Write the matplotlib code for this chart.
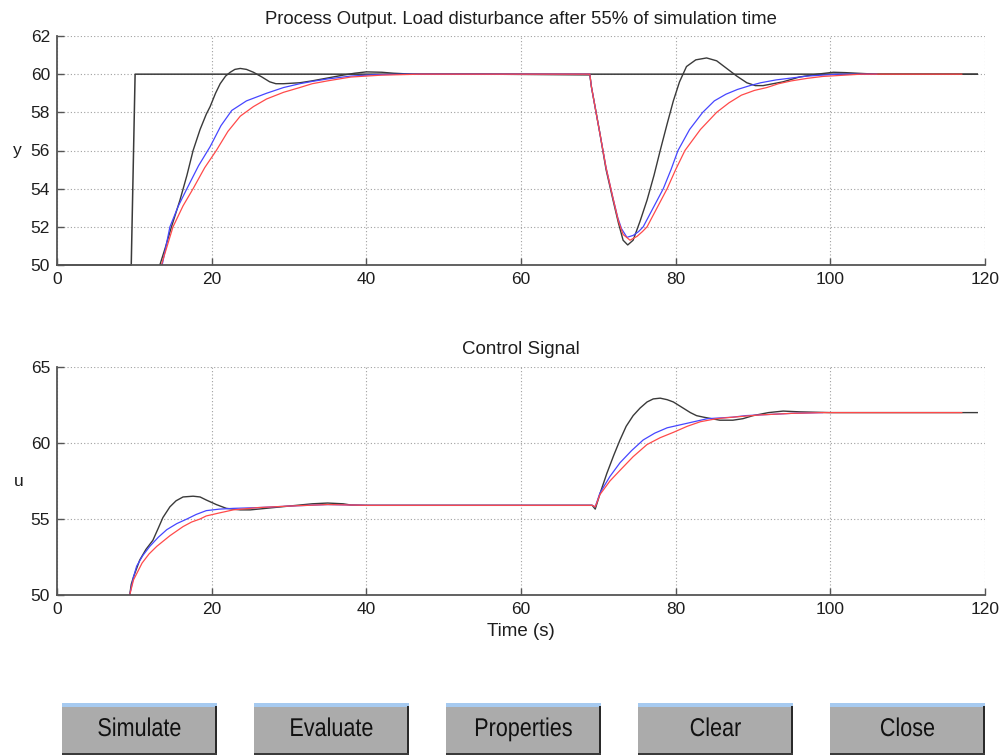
import matplotlib
matplotlib.use("Agg")
import matplotlib.pyplot as plt
from matplotlib.patches import Rectangle
from matplotlib.patheffects import AbstractPathEffect
from matplotlib.transforms import Affine2D

# ---------------- data ----------------
x_ticks = [0, 20, 40, 60, 80, 100, 120]
y_ticks_top = [50, 52, 54, 56, 58, 60, 62]
y_ticks_bot = [50, 55, 60, 65]

# process output: setpoint
sp_t = [0, 9.6, 10.1, 119]
sp_y = [50, 50, 60, 60]

# process output: black response
yk_t = [13.3, 14.0, 14.8, 15.9, 16.8, 17.6, 18.5, 19.3, 19.8, 20.5, 21.1, 21.8, 22.4, 23.0, 23.7, 24.5, 25.4,
        26.5, 27.5, 28.3, 29.3, 31.4, 33, 35, 37, 38.5, 40, 42, 43.5, 46, 55,
        68.9, 69.1, 70.2, 71.0, 71.9, 72.6, 73.2, 73.8, 74.5, 75.4, 76.3, 77.2, 78.0, 78.9, 79.7, 80.5,
        81.4, 82.6, 84.0, 85.3, 86.6, 87.9, 89.2, 90.3, 91.3, 92.6, 93.9, 96, 98.3, 100.4, 102, 103.4, 106, 119]
yk_y = [50, 50.9, 52.0, 53.4, 54.7, 56.0, 57.1, 57.9, 58.3, 59.0, 59.5, 59.9, 60.1, 60.25, 60.3, 60.25, 60.1,
        59.85, 59.6, 59.5, 59.5, 59.55, 59.65, 59.8, 59.95, 60.05, 60.12, 60.1, 60.05, 60.0, 60.0,
        59.96, 59.35, 56.9, 55.0, 53.4, 52.2, 51.3, 51.05, 51.3, 52.3, 53.4, 54.7, 56.0, 57.4, 58.6, 59.6,
        60.4, 60.75, 60.85, 60.7, 60.3, 59.9, 59.55, 59.4, 59.4, 59.5, 59.6, 59.85, 60.0, 60.1, 60.08, 60.05, 60.0, 60.0]

# process output: blue response
yb_t = [13.6, 14.6, 15.7, 16.8, 18.3, 19.8, 21.2, 22.6, 24.5, 27.1, 29.3, 31.4, 33, 35, 38, 41, 45,
        68.9, 69.1, 70.2, 71.0, 71.9, 72.5, 73.0, 73.7, 74.5, 75.2, 75.8, 77.1, 78.4, 79.4, 80.3, 81.8,
        83.5, 85.0, 86.5, 88, 89.6, 91, 93, 95, 97, 101, 106]
yb_y = [50, 52, 53.1, 54, 55.2, 56.2, 57.3, 58.1, 58.6, 59.0, 59.3, 59.5, 59.62, 59.75, 59.9, 59.97, 60.0,
        60, 59.35, 56.9, 55.1, 53.5, 52.5, 51.9, 51.45, 51.55, 51.75, 52.0, 53.0, 54.0, 55.0, 56.0, 57.1,
        58.0, 58.6, 58.95, 59.2, 59.4, 59.55, 59.7, 59.8, 59.9, 60.0, 60.0]

# process output: red response
yr_t = [13.5, 15.0, 16.3, 17.6, 19.1, 20.6, 22.1, 23.7, 25.4, 27.1, 29.3, 31.4, 33, 35, 38, 42, 47, 55,
        68.9, 69.1, 70.2, 71.0, 71.9, 72.6, 73.2, 74.1, 75.0, 75.7, 76.3, 77.6, 78.9, 80.0, 81.2, 83.2,
        85.3, 86.9, 88.5, 90.2, 91.8, 93.3, 95, 97, 99, 104, 117]
yr_y = [50, 52, 53.1, 54, 55.1, 56.0, 57.0, 57.8, 58.3, 58.7, 59.05, 59.3, 59.5, 59.65, 59.85, 59.95, 60.0, 60.0,
        60, 59.35, 56.9, 55.1, 53.5, 52.3, 51.6, 51.3, 51.5, 51.75, 52.0, 53.0, 54.0, 55.0, 56.0, 57.1,
        58.0, 58.5, 58.9, 59.15, 59.3, 59.5, 59.65, 59.78, 59.88, 60.0, 60.0]

# control signal: black
uk_t = [9.4, 9.6, 9.9, 10.7, 11.5, 12.4, 13.1, 13.7, 14.6, 15.4, 16.3, 17.6, 18.5, 19.3, 20.6, 21.9, 23.7,
        25, 27, 30, 33, 35, 37, 38, 40, 45,
        69.2, 69.6, 70.3, 71.1, 72.0, 72.8, 73.6, 74.5, 75.4, 76.3, 77.1, 78.0, 78.9, 79.7, 80.8, 81.9,
        82.7, 83.6, 85.7, 87.4, 88.7, 90.0, 92, 93.9, 96, 100, 119]
uk_y = [50, 50.7, 51.2, 52.3, 53.0, 53.6, 54.4, 55.1, 55.8, 56.2, 56.45, 56.5, 56.45, 56.25, 55.95, 55.7, 55.6,
        55.6, 55.7, 55.85, 56.0, 56.05, 56.0, 55.92, 55.9, 55.9,
        55.9, 55.65, 56.8, 58.0, 59.2, 60.2, 61.1, 61.8, 62.3, 62.7, 62.9, 62.95, 62.85, 62.7, 62.35, 62.0,
        61.8, 61.7, 61.5, 61.5, 61.6, 61.8, 62.0, 62.1, 62.05, 62.0, 62.0]

# control signal: blue
ub_t = [9.4, 9.9, 10.3, 11.1, 12.0, 13.1, 14.2, 15.5, 16.8, 18.0, 19.3, 21, 22.8, 26, 30, 35, 40, 46,
        69.2, 69.6, 70.2, 71.5, 72.8, 74.3, 75.8, 77.3, 78.9, 80.2, 81.5, 84.1, 87.4, 89, 91, 95, 99]
ub_y = [50, 51.2, 51.9, 52.6, 53.2, 53.8, 54.3, 54.7, 55.0, 55.3, 55.55, 55.65, 55.7, 55.75, 55.85, 55.95, 55.9, 55.9,
        55.9, 55.8, 56.7, 57.8, 58.7, 59.5, 60.2, 60.65, 61.0, 61.15, 61.3, 61.6, 61.7, 61.8, 61.85, 61.95, 62.0]

# control signal: red
ur_t = [9.4, 9.9, 10.3, 11.0, 11.9, 12.9, 14.6, 16.3, 17.4, 18.5, 19.3, 21, 22.8, 26, 30, 35, 40, 46,
        69.2, 69.6, 70.2, 71.5, 72.8, 74.5, 76.3, 78, 79.7, 81.5, 83.2, 85.3, 87.4, 91, 95, 99, 117]
ur_y = [50, 51.0, 51.4, 52.1, 52.7, 53.2, 53.9, 54.5, 54.8, 55.0, 55.2, 55.4, 55.6, 55.75, 55.85, 55.95, 55.9, 55.9,
        55.9, 55.8, 56.6, 57.5, 58.2, 59.1, 59.9, 60.35, 60.7, 61.1, 61.4, 61.6, 61.7, 61.85, 61.95, 62.0, 62.0]

buttons = ["Simulate", "Evaluate", "Properties", "Clear", "Close"]

top_title = "Process Output. Load disturbance after 55% of simulation time"
bot_title = "Control Signal"

# ---------------- style ----------------
plt.rcParams['font.family'] = ['Liberation Sans', 'DejaVu Sans']

W, H = 1003, 755
fig = plt.figure(figsize=(W / 100, H / 100), dpi=100)
fig.patch.set_facecolor('white')

C_K = '#3a3a3a'
C_B = '#4646ff'
C_R = '#ff4a4a'
TXT = '#1e1e1e'


class Condense(AbstractPathEffect):
    """Draw text squeezed horizontally about a given x (display px)."""

    def __init__(self, sx, cx):
        super().__init__()
        self.sx = sx
        self.cx = cx

    def draw_path(self, renderer, gc, tpath, affine, rgbFace=None):
        a = affine + Affine2D().translate(-self.cx, 0).scale(self.sx, 1).translate(self.cx, 0)
        renderer.draw_path(gc, tpath, a, rgbFace)


def px_axes(x0, y0, x1, y1):
    return fig.add_axes([x0 / W, 1 - y1 / H, (x1 - x0) / W, (y1 - y0) / H])


def style(ax, yt, ylim):
    ax.set_xlim(0, 120)
    ax.set_ylim(*ylim)
    ax.set_xticks(x_ticks)
    ax.set_yticks(yt)
    for s in ['top', 'right']:
        ax.spines[s].set_visible(False)
    for s in ['left', 'bottom']:
        ax.spines[s].set_color('#555555')
        ax.spines[s].set_linewidth(1.3)
    ax.grid(True, linestyle=(0, (1, 2)), color='#a0a0a0', linewidth=0.8)
    ax.tick_params(direction='in', length=5, width=1, color='#555555',
                   labelsize=12.5, labelcolor=TXT, pad=5)
    ax.set_axisbelow(True)


ax1 = px_axes(57, 36, 985, 265)
style(ax1, y_ticks_top, (50, 62))
ax1.plot(sp_t, sp_y, color=C_K, lw=1.1, clip_on=False)
ax1.plot(yk_t, yk_y, color=C_K, lw=1.0)
ax1.plot(yb_t, yb_y, color=C_B, lw=0.9)
ax1.plot(yr_t, yr_y, color=C_R, lw=0.9)
ax1.set_title(top_title, fontsize=13.3, color=TXT, pad=9)
ax1.set_ylabel('y', fontsize=12.5, rotation=0, color=TXT, va='center')
ax1.yaxis.set_label_coords(-0.043, 0.5)

ax2 = px_axes(57, 367, 985, 595)
style(ax2, y_ticks_bot, (50, 65))
ax2.plot(uk_t, uk_y, color=C_K, lw=1.0)
ax2.plot(ub_t, ub_y, color=C_B, lw=0.9)
ax2.plot(ur_t, ur_y, color=C_R, lw=0.9)
ax2.set_title(bot_title, fontsize=13.5, color=TXT, pad=9)
ax2.set_xlabel('Time (s)', fontsize=13.5, color=TXT, labelpad=4)
ax2.set_ylabel('u', fontsize=12.5, rotation=0, color=TXT, va='center')
ax2.yaxis.set_label_coords(-0.041, 0.5)

# ---------------- buttons ----------------
for i, lab in enumerate(buttons):
    x0 = 62 + 192 * i
    bw = 155
    y_top = 703
    fig.patches.append(Rectangle((x0 / W, 0), bw / W, (H - y_top) / H, transform=fig.transFigure,
                                 facecolor='#ababab', edgecolor='none'))
    fig.patches.append(Rectangle((x0 / W, 1 - (y_top + 4) / H), bw / W, 4 / H, transform=fig.transFigure,
                                 facecolor='#a6caf0', edgecolor='none'))
    fig.patches.append(Rectangle(((x0 + bw - 2) / W, 0), 2 / W, (H - y_top - 3) / H, transform=fig.transFigure,
                                 facecolor='#2a2a2a', edgecolor='none'))
    fig.patches.append(Rectangle((x0 / W, 0), bw / W, 2 / H, transform=fig.transFigure,
                                 facecolor='#3a3a3a', edgecolor='none'))
    cx = x0 + bw / 2
    fig.text(cx / W, 1 - 729 / H, lab, ha='center', va='center', color='#111111',
             fontsize=18.5, family='Liberation Sans',
             path_effects=[Condense(0.84, cx)])

fig.savefig('out.png', dpi=100, facecolor='white')
